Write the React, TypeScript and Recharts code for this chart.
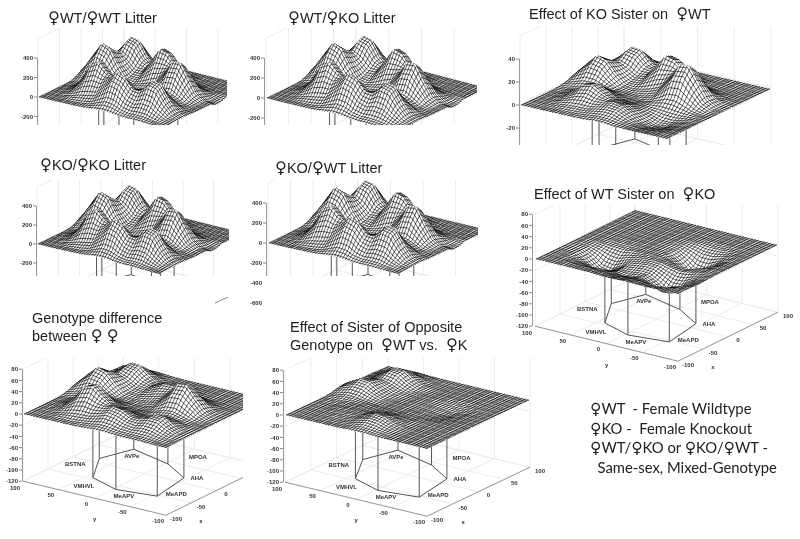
import { ComposedChart, Line, Scatter, XAxis, YAxis, ReferenceDot, ReferenceLine } from 'recharts';

// heights, one row per y grid line (front edge first), 17 x 17
const SURFACE_LITTER = [
  [0, 0, 0, 2, 3, 5, 7, 16, 23, 21, 11, 6, 6, 5, 3, 1, 0],
  [0, 0, 1, 5, 9, 15, 29, 66, 102, 91, 52, 33, 37, 33, 17, 5, 1],
  [0, 1, 8, 29, 58, 75, 94, 168, 247, 221, 133, 106, 136, 124, 65, 19, 3],
  [0, 4, 24, 89, 178, 215, 197, 250, 338, 300, 196, 193, 268, 248, 129, 37, 6],
  [0, 7, 40, 151, 303, 351, 268, 228, 258, 226, 164, 203, 300, 279, 146, 42, 6],
  [0, 7, 38, 143, 286, 327, 225, 134, 115, 96, 80, 121, 187, 176, 92, 26, 4],
  [5, 18, 44, 97, 161, 173, 111, 52, 30, 26, 32, 61, 85, 72, 35, 10, 1],
  [24, 69, 115, 118, 91, 62, 33, 11, 4, 14, 49, 97, 107, 68, 24, 5, 0],
  [56, 162, 259, 232, 120, 38, 9, 8, 16, 44, 127, 234, 246, 145, 47, 8, 0],
  [76, 220, 351, 314, 159, 43, 21, 41, 73, 108, 203, 341, 353, 207, 67, 11, 0],
  [57, 168, 278, 262, 146, 56, 55, 131, 213, 222, 229, 287, 281, 164, 53, -10, -30],
  [28, 92, 183, 222, 168, 90, 96, 223, 353, 327, 214, 155, 127, 71, 23, -10, -25],
  [14, 67, 186, 298, 272, 153, 111, 215, 332, 298, 161, 66, 36, 17, 5, 1, 0],
  [10, 62, 194, 330, 312, 170, 85, 116, 174, 154, 78, 22, 4, 1, 0, 0, 0],
  [7, 41, 128, 217, 205, 109, 42, 36, 49, 44, 22, 6, 1, 0, 0, 0, 0],
  [3, 15, 47, 80, 76, 39, 13, 7, 8, 7, 3, 1, 0, 0, 0, 0, 0],
  [1, 3, 10, 17, 16, 8, 2, 0, 0, 0, 0, 0, 0, 0, 0, 0, 0],
];

const SURFACE_KO_SISTER = [
  [0, 0, 0, 0, 0, 0, 0, 0, 1, 1, 0, 0, 0, 0, 0, 0, 0],
  [0, 0, 0, 0, 0.5, 0.5, 1, 2, 3, 2.5, 1, 0, -1, -1, -0.5, 0, 0],
  [0, 0, 0.5, 1.5, 2.5, 3, 3, 5, 6.5, 6, 2.5, -1, -3, -2.5, -1.5, -0.5, 0],
  [0, 0, 1, 4, 8, 9.5, 7.5, 7.5, 9, 7.5, 3, -2.5, -5.5, -5.5, -3, -1, 0],
  [0, 0, 2, 7, 14, 16, 11, 7.5, 7, 5.5, 1.5, -3, -6.5, -6, -3, -1, 0],
  [0, 0, 2, 6.5, 13, 14.5, 10, 5, 3.5, 2.5, 0.5, -2, -4, -4, -2, -0.5, 0],
  [0.5, 1, 2.5, 5, 7.5, 8, 5, 2, 1, 1, 1, 1, 0.5, 0, 0, 0, 0],
  [1.5, 4, 7, 7, 5, 3, 1.5, 0.5, 0, 1, 4, 8, 8.5, 5, 1.5, 0, 0],
  [3.5, 10.5, 16.5, 15, 7.5, 2, 0.5, 0.5, 1.5, 4, 12, 22, 23, 13.5, 4.5, 0.5, 0],
  [5, 14, 22.5, 20, 10, 2.5, 1.5, 3, 5.5, 9, 18, 31, 32, 19, 6, 1, 0],
  [3.5, 11, 17.5, 16.5, 9, 3.5, 4, 10, 16, 17.5, 19.5, 26, 26, 15, 5, 1, 0],
  [1.5, 5.5, 11.5, 13.5, 10, 5.5, 7, 17, 27.5, 25.5, 17.5, 14, 12, 6.5, 2, 0.5, 0],
  [1, 4, 11.5, 18.5, 17, 9.5, 8, 16, 25, 23, 12.5, 5.5, 3.5, 1.5, 0.5, 0, 0],
  [0.5, 4, 12, 21, 20, 11, 6, 9, 13.5, 12, 6, 1.5, 0.5, 0, 0, 0, 0],
  [0.5, 2.5, 8, 13, 12.5, 7, 2.5, 2.5, 4, 3.5, 1.5, 0.5, 0, 0, 0, 0, 0],
  [0, 1, 3, 5, 4.5, 2.5, 1, 0.5, 0.5, 0.5, 0, 0, 0, 0, 0, 0, 0],
  [0, 0, 0.5, 1, 1, 0.5, 0, 0, 0, 0, 0, 0, 0, 0, 0, 0, 0],
];

const SURFACE_WT_SISTER = [
  [0, 0, 0, 0, 0, 0, 0, -1, -1, -1, 0, -1, -1, -1, 0, 0, 0],
  [0, 0, 0, 0, -1, -1, -2, -3, -5, -4, -3, -3, -4, -4, -2, -1, 0],
  [0, 0, -1, -3, -5, -6, -6, -8, -11, -10, -8, -9, -14, -14, -7, -2, 0],
  [0, 0, -2, -8, -15, -18, -14, -13, -16, -14, -11, -19, -28, -27, -14, -4, -1],
  [0, -1, -3, -13, -26, -29, -20, -13, -12, -10, -11, -20, -32, -31, -16, -5, -1],
  [0, -1, -3, -12, -25, -28, -19, -9, -6, -4, -6, -13, -20, -19, -10, -3, 0],
  [0, 0, -2, -6, -13, -15, -9, -4, -2, -1, -2, -6, -9, -7, -3, -1, 0],
  [0, 0, 0, -2, -3, -4, -2, -1, 0, -1, -4, -8, -9, -5, -2, 0, 0],
  [0, 0, 0, 0, -1, -1, -1, 0, 0, -3, -11, -22, -23, -13, -4, -1, 0],
  [0, 0, 0, 0, 0, 0, 0, 0, -1, -5, -16, -32, -33, -20, -6, -1, 0],
  [0, 0, 0, 0, 0, 0, 0, 0, -1, -4, -13, -25, -27, -16, -5, -1, 0],
  [0, 0, 0, 0, 0, 0, 0, 0, 0, -2, -6, -11, -11, -7, -2, 0, 0],
  [0, 0, 0, 0, 0, 0, 0, 0, 0, 0, -1, -3, -3, -2, -1, 0, 0],
  [0, 0, 0, 0, 0, 0, 0, 0, 0, 0, 0, 0, 0, 0, 0, 0, 0],
  [0, 0, 0, 0, 0, 0, 0, 0, 0, 0, 0, 0, 0, 0, 0, 0, 0],
  [0, 0, 0, 0, 0, 0, 0, 0, 0, 0, 0, 0, 0, 0, 0, 0, 0],
  [0, 0, 0, 0, 0, 0, 0, 0, 0, 0, 0, 0, 0, 0, 0, 0, 0],
];

const SURFACE_GENOTYPE = [
  [0, 0, 0, 0, 0, 0, 0, 1, 2, 2, 1, 0.5, 0.5, 0.5, 0, 0, 0],
  [0, 0, 0, 1, 1, 1, 3, 5, 8, 7, 4, 3, 3, 3, 1, 0, 0],
  [0, 0, 1, 4, 8, 10, 10, 14, 20, 17, 11, 8, 11, 10, 5, 1.5, 0],
  [0, 0.5, 3, 12, 24, 28, 23, 22, 27, 24, 15, 15, 20, 19, 10, 3, 0],
  [0, 1, 5.5, 20, 41, 47, 33, 22, 21, 18, 13, 16, 23, 22, 11, 3, 0],
  [0, 1, 5, 19, 39, 44, 29, 14, 10, 7, 6, 9, 14, 13, 7, 2, 0],
  [0.5, 2, 5.5, 13, 21, 23, 15, 6, 3, 4, 3, 5.5, 8, 6, 3, 1, 0],
  [3, 8, 13, 14, 12, 8, 5, 2, 1, 2, 6, 12, 13, 8, 3, 0, 0],
  [7, 20, 31, 28, 14, 4, 1, 1, 1.5, 5, 17, 32, 33, 20, 6, 1, 0],
  [9, 26, 42, 37, 18.5, 5, 2, 3, 5.5, 11, 25.5, 45.5, 47.5, 28, 9, 1.5, 0],
  [7, 20, 33, 31, 17, 6, 4, 8.5, 14, 17, 25, 37, 38, 22, 7, 1, 0],
  [3, 10, 20, 23.5, 17.5, 8.5, 7, 15, 23.5, 23, 18, 18, 16.5, 9.5, 3, 0.5, 0],
  [1.5, 7, 18.5, 29, 26, 14, 8.5, 14, 22, 20, 11.5, 6, 4, 2, 0.5, 0, 0],
  [1, 6, 19, 32, 31, 16.5, 7, 8, 12, 10.5, 5, 1.5, 0, 0, 0, 0, 0],
  [1, 4, 12, 21, 20, 10.5, 3.5, 2.5, 3.5, 3, 1.5, 0.5, 0, 0, 0, 0, 0],
  [0, 1.5, 4.5, 7.5, 7, 4, 1, 0.5, 0.5, 0.5, 0, 0, 0, 0, 0, 0, 0],
  [0, 0.5, 1, 2, 2, 1, 0.5, 0, 0, 0, 0, 0, 0, 0, 0, 0, 0],
];

const SURFACE_OPPOSITE = [
  [0, 0, 0, 0, 0, 0, 0, 1, 1, 1, 0, 0, 0, 0, 0, 0, 0],
  [0, 0, 0, 0, 0, 0, 1, 3, 5, 4, 2, 1, 0, 0, 0, 0, 0],
  [0, 0, 0, 0, 1, 1, 3, 7, 12, 10, 5, 1, 0, 0, 0, 0, 0],
  [0, 0, 0, 1, 2, 3, 4, 10, 16, 14, 7, 2, 0, 0, 0, 0, 0],
  [0, 0, 0, 2, 3, 4, 5, 8, 12, 10, 5, 1, 0, 0, 0, 0, 0],
  [0, 0, 0, 2, 3, 4, 3, 4, 5, 4, 2, 1, 0, 0, 0, 0, 0],
  [0, 1, 2, 3, 3, 3, 2, 1, 1, 1, 0, 0, 0, 0, 0, 0, 0],
  [1, 4, 7, 6, 3, 1, 0, 0, 0, 0, -1, -2, -2, -1, 0, 0, 0],
  [4, 11, 17, 15, 8, 2, 0, 0, 0, -1, -2, -4, -4, -2, -1, 0, 0],
  [5, 15, 23, 21, 10, 3, 0, 0, 0, -1, -3, -5, -6, -3, -1, 0, 0],
  [4, 12, 19, 18, 10, 4, 1, 0, 0, -1, -2, -4, -5, -3, -1, 0, 0],
  [2, 6, 13, 15, 12, 6, 1, 0, 0, 0, -1, -2, -2, -1, 0, 0, 0],
  [1, 5, 14, 23, 21, 10, 3, 0, 0, 0, 0, 0, 0, 0, 0, 0, 0],
  [1, 5, 15, 25, 23, 12, 4, 1, 0, 0, 0, 0, 0, 0, 0, 0, 0],
  [1, 3, 10, 16, 15, 8, 2, 0, 0, 0, 0, 0, 0, 0, 0, 0, 0],
  [0, 1, 3, 6, 5, 3, 1, 0, 0, 0, 0, 0, 0, 0, 0, 0, 0],
  [0, 0, 1, 1, 1, 0, 0, 0, 0, 0, 0, 0, 0, 0, 0, 0, 0],
];

// nuclei on the floor of the box, as fractions along the y and x edges
const NUCLEI = ['BSTNA', 'AVPe', 'MPOA', 'AHA', 'MeAPD', 'MeAPV', 'VMHVL'];
const NUCLEUS_P = [0.141, 0.214, 0.517, 0.726, 0.776, 0.517, 0.295];
const NUCLEUS_Q = [0.561, 0.802, 0.71, 0.571, 0.233, 0.19, 0.277];
const NUCLEUS_LABEL_DX = [-24, -2, 30, 13, 19, 8, -9];
const NUCLEUS_LABEL_DY = [6, 7, -7, 1, -2, 7, 9];

const Y_EDGE_TICKS = [100, 50, 0, -50, -100];
const X_EDGE_TICKS = [-100, -50, 0, 50, 100];
const EDGE_STEPS = [0, 0.25, 0.5, 0.75, 1];

const LITTER_TICKS = [400, 200, 0, -200];
const KO_SISTER_TICKS = [40, 20, 0, -20];
const DIFF_TICKS = [80, 60, 40, 20, 0, -20, -40, -60, -80, -100, -120];

const PANELS = [
  { surface: SURFACE_LITTER, left: 10, top: 28, right: 227, bottom: 125, axisX: 37, L: [38, 97], a: [125, 31], b: [86, -42], pz: 0.0975, ticks: LITTER_TICKS, zMin: -600, zTop: 600 },
  { surface: SURFACE_LITTER, left: 240, top: 28, right: 477, bottom: 125, axisX: 264, L: [266, 98], a: [131, 34], b: [90, -44], pz: 0.1, ticks: LITTER_TICKS, zMin: -600, zTop: 600 },
  { surface: SURFACE_KO_SISTER, left: 505, top: 26, right: 775, bottom: 145, axisX: 519, L: [520, 105], a: [147, 34], b: [104, -50], pz: 1.15, ticks: KO_SISTER_TICKS, zMin: -58, zTop: 60 },
  { surface: SURFACE_LITTER, left: 10, top: 180, right: 229, bottom: 276, axisX: 36, L: [37, 244], a: [122, 30], b: [85, -41], pz: 0.095, ticks: LITTER_TICKS, zMin: -600, zTop: 600, extra: 30, fragment: true },
  { surface: SURFACE_LITTER, left: 240, top: 180, right: 478, bottom: 276, axisX: 266, L: [268, 243], a: [130, 31], b: [90, -44], pz: 0.1, ticks: LITTER_TICKS, zMin: -600, zTop: 600, extra: 33, lowTicks: [-400, -600] },
  { surface: SURFACE_WT_SISTER, left: 515, top: 205, right: 800, bottom: 380, axisX: 532, L: [535, 259], a: [143, 35], b: [100, -49], pz: 0.56, ticks: DIFF_TICKS, zMin: -120, zTop: 80, labelled: true },
  { surface: SURFACE_GENOTYPE, left: 2, top: 358, right: 243, bottom: 535, axisX: 22, L: [23, 414], a: [143, 34], b: [100, -49], pz: 0.56, ticks: DIFF_TICKS, zMin: -120, zTop: 80, labelled: true },
  { surface: SURFACE_OPPOSITE, left: 262, top: 358, right: 556, bottom: 535, axisX: 283, L: [285, 415], a: [142, 34], b: [103, -49], pz: 0.56, ticks: DIFF_TICKS, zMin: -120, zTop: 80, labelled: true },
];

const TITLES = [
  { x: 48, y: 24, lines: ['♀WT/♀WT Litter'] },
  { x: 288, y: 24, lines: ['♀WT/♀KO Litter'] },
  { x: 529, y: 20, lines: ['Effect of KO Sister on  ♀WT'] },
  { x: 40, y: 171, lines: ['♀KO/♀KO Litter'] },
  { x: 275, y: 174, lines: ['♀KO/♀WT Litter'] },
  { x: 534, y: 200, lines: ['Effect of WT Sister on  ♀KO'] },
  { x: 32, y: 324, lines: ['Genotype difference', 'between ♀ ♀'] },
  { x: 290, y: 333, lines: ['Effect of Sister of Opposite', 'Genotype on  ♀WT vs.  ♀K'] },
];

const LEGEND_LINES = ['♀WT  - Female Wildtype', '♀KO -  Female Knockout', '♀WT/♀KO or ♀KO/♀WT -', '  Same-sex, Mixed-Genotype'];

const SANS = '"Liberation Sans", Arial, sans-serif';
const GRID_STEPS = 16;

const project = (panel: any, p: number, q: number, z: number) => ({
  x: panel.L[0] + p * panel.a[0] + q * panel.b[0],
  y: z - (p * panel.a[1] + q * panel.b[1]) / panel.pz,
});

// back row first so nearer cells paint over farther ones
const buildCells = (panel: any) => {
  const cells: any[] = [];
  for (let j = GRID_STEPS - 1; j >= 0; j--) {
    for (let i = 0; i < GRID_STEPS; i++) {
      const corner = (ci: number, cj: number) => project(panel, ci / GRID_STEPS, cj / GRID_STEPS, panel.surface[cj][ci]);
      const c00 = corner(i, j);
      cells.push({ x: c00.x, y: c00.y, corners: [c00, corner(i + 1, j), corner(i + 1, j + 1), corner(i, j + 1)] });
    }
  }
  return cells;
};

const MeshCell = ({ cx, cy, payload, pz }: any) => {
  if (cx == null || cy == null) return null;
  const pts = payload.corners.map((c: any) => [cx + c.x - payload.x, cy - (c.y - payload.y) * pz]);
  const mix = (u: number[], v: number[], t: number) => [u[0] + (v[0] - u[0]) * t, u[1] + (v[1] - u[1]) * t];
  let d = '';
  [1 / 6, 1 / 2, 5 / 6].forEach((t) => {
    const s1 = mix(pts[0], pts[1], t);
    const e1 = mix(pts[3], pts[2], t);
    const s2 = mix(pts[0], pts[3], t);
    const e2 = mix(pts[1], pts[2], t);
    d += `M${s1[0]} ${s1[1]}L${e1[0]} ${e1[1]}M${s2[0]} ${s2[1]}L${e2[0]} ${e2[1]}`;
  });
  return (
    <g>
      <polygon points={pts.map((p: number[]) => p.join(',')).join(' ')} fill="#fff" stroke="#fff" strokeWidth={0.2} />
      <path d={d} fill="none" stroke="#000" strokeWidth={0.62} />
    </g>
  );
};

// polylines with a null between pieces so one Line can hold them all
const joinPieces = (pieces: any[][]) => {
  const out: any[] = [];
  pieces.forEach((piece) => {
    out.push(...piece);
    out.push({ x: piece[piece.length - 1].x, y: null });
  });
  return out;
};

const buildWalls = (panel: any) => {
  const pieces: any[][] = [];
  const { zMin, zTop } = panel;
  EDGE_STEPS.forEach((s) => {
    pieces.push([project(panel, 0, s, zMin), project(panel, 0, s, zTop)]);
    pieces.push([project(panel, s, 1, zMin), project(panel, s, 1, zTop)]);
    pieces.push([project(panel, s, 0, zMin), project(panel, s, 1, zMin)]);
    pieces.push([project(panel, 0, s, zMin), project(panel, 1, s, zMin)]);
  });
  [zMin, (zMin + zTop) / 2, zTop].forEach((z) => {
    pieces.push([project(panel, 0, 0, z), project(panel, 0, 1, z), project(panel, 1, 1, z)]);
  });
  return joinPieces(pieces);
};

const buildStems = (panel: any) => {
  const pieces: any[][] = NUCLEI.map((_, n) => [
    project(panel, NUCLEUS_P[n], NUCLEUS_Q[n], panel.zMin),
    project(panel, NUCLEUS_P[n], NUCLEUS_Q[n], 0),
  ]);
  const ring = NUCLEI.map((_, n) => project(panel, NUCLEUS_P[n], NUCLEUS_Q[n], panel.zMin));
  pieces.push([...ring, ring[0]]);
  return joinPieces(pieces);
};

const buildFrame = (panel: any) => {
  const top = panel.ticks[0];
  const pieces = [
    [{ x: panel.axisX + 0.5, y: top }, { x: panel.axisX + 0.5, y: panel.zMin }],
    [project(panel, 0, 0, panel.zMin), project(panel, 1, 0, panel.zMin), project(panel, 1, 1, panel.zMin)],
  ];
  return joinPieces(pieces);
};

const TextMark = ({ cx, cy, text, dx = 0, dy = 0, anchor = 'middle', size = 6 }: any) => (
  <text x={cx + dx} y={cy + dy} textAnchor={anchor} dominantBaseline="middle" fontFamily={SANS} fontSize={size} fontWeight={700} fill="#333">
    {text}
  </text>
);

const Panel = ({ panel }: { panel: any }) => {
  const width = panel.right - panel.left;
  const height = panel.bottom - panel.top;
  const extra = panel.extra || 0;
  const yMax = (panel.L[1] - panel.top) / panel.pz;
  const yMin = (panel.L[1] - panel.bottom) / panel.pz;
  return (
    <div style={{ position: 'absolute', left: panel.left, top: panel.top, width, height: height + extra }}>
      <ComposedChart width={width} height={height + extra} margin={{ top: 0, right: 0, left: 0, bottom: extra }}>
        <XAxis type="number" dataKey="x" domain={[panel.axisX, panel.right]} allowDataOverflow hide />
        <YAxis
          type="number"
          dataKey="y"
          domain={[yMin, yMax]}
          allowDataOverflow
          width={panel.axisX - panel.left}
          ticks={panel.ticks}
          interval={0}
          axisLine={false}
          tickLine={{ stroke: '#888' }}
          tickSize={3}
          tickMargin={1}
          tick={{ fontSize: 6, fontWeight: 700, fill: '#333', fontFamily: SANS }}
        />
        <Line data={buildWalls(panel)} dataKey="y" stroke="#ececec" strokeWidth={1} dot={false} activeDot={false} isAnimationActive={false} />
        <Line data={buildFrame(panel)} dataKey="y" stroke="#999" strokeWidth={1} dot={false} activeDot={false} isAnimationActive={false} />
        <Line data={buildStems(panel)} dataKey="y" stroke="#555" strokeWidth={1} dot={false} activeDot={false} isAnimationActive={false} />
        <Scatter
          data={buildCells(panel)}
          isAnimationActive={false}
          shape={(s: any) => <MeshCell {...s} pz={panel.pz} />}
        />
        {panel.labelled &&
          NUCLEI.map((name, n) => {
            const at = project(panel, NUCLEUS_P[n], NUCLEUS_Q[n], panel.zMin);
            return (
              <ReferenceDot
                key={name}
                x={at.x}
                y={at.y}
                r={0}
                ifOverflow="visible"
                shape={(s: any) => <TextMark {...s} text={name} dx={NUCLEUS_LABEL_DX[n]} dy={NUCLEUS_LABEL_DY[n]} />}
              />
            );
          })}
        {panel.labelled &&
          EDGE_STEPS.map((s, n) => {
            const yAt = project(panel, s, 0, panel.zMin);
            const xAt = project(panel, 1, s, panel.zMin);
            const marks = [
              <ReferenceDot key={`y${n}`} x={yAt.x} y={yAt.y} r={0} ifOverflow="visible" shape={(o: any) => <TextMark {...o} text={Y_EDGE_TICKS[n]} dx={-8} dy={n === 0 ? 7 : 6} />} />,
            ];
            if (xAt.x + 16 < panel.right) {
              marks.push(<ReferenceDot key={`x${n}`} x={xAt.x} y={xAt.y} r={0} ifOverflow="visible" shape={(o: any) => <TextMark {...o} text={X_EDGE_TICKS[n]} dx={10} dy={4} />} />);
            }
            return marks;
          })}
        {panel.labelled && (
          <ReferenceDot {...project(panel, 0.55, 0, panel.zMin)} r={0} ifOverflow="visible" shape={(o: any) => <TextMark {...o} text="y" dx={-7} dy={20} />} />
        )}
        {panel.labelled && (
          <ReferenceDot {...project(panel, 1, 0.4, panel.zMin)} r={0} ifOverflow="visible" shape={(o: any) => <TextMark {...o} text="x" dx={-5} dy={26} />} />
        )}
        {panel.lowTicks &&
          panel.lowTicks.map((t: number) => (
            <ReferenceDot key={t} x={panel.axisX} y={t} r={0} ifOverflow="visible" shape={(o: any) => <TextMark {...o} text={t} dx={-4} anchor="end" />} />
          ))}
        {panel.fragment && (
          <ReferenceLine
            segment={[
              { x: panel.right - 14, y: (panel.L[1] - panel.bottom - 27) / panel.pz },
              { x: panel.right - 1, y: (panel.L[1] - panel.bottom - 21) / panel.pz },
            ]}
            stroke="#888"
            ifOverflow="visible"
          />
        )}
      </ComposedChart>
    </div>
  );
};

// the female sign is larger and heavier than the fallback glyph of the text font
const WithSigns = ({ text, family, weight, scale }: any) => (
  <>
    {text.split(/(♀)/).map((part: string, n: number) =>
      part === '♀' ? (
        <span key={n} style={{ fontFamily: family, fontWeight: weight, fontSize: `${scale}em` }}>
          {part}
        </span>
      ) : (
        part
      ),
    )}
  </>
);

const Heading = ({ x, y, text, size = 14.5 }: any) => (
  <div style={{ position: 'absolute', left: x, top: y - size, fontFamily: SANS, fontSize: size, lineHeight: `${size * 1.15}px`, color: '#222', whiteSpace: 'pre' }}>
    <WithSigns text={text} family='"DejaVu Sans"' weight={700} scale={1.12} />
  </div>
);

export default function App() {
  return (
    <div style={{ position: 'absolute', left: 0, top: 0, width: 800, height: 539, background: '#fff', overflow: 'hidden', filter: 'blur(0.5px)' }}>
      {PANELS.map((panel, n) => (
        <Panel key={n} panel={panel} />
      ))}
      {TITLES.map((title, n) =>
        title.lines.map((line, m) => <Heading key={`${n}-${m}`} x={title.x} y={title.y + m * 18.5} text={line} />),
      )}
      {LEGEND_LINES.map((line, n) => (
        <div
          key={line}
          style={{ position: 'absolute', left: 590, top: 399 + n * 19.5, fontFamily: 'Lato, sans-serif', fontSize: 14.8, lineHeight: '18px', color: '#222', whiteSpace: 'pre' }}
        >
          <WithSigns text={line} family='"DejaVu Sans"' weight={400} scale={1.05} />
        </div>
      ))}
    </div>
  );
}
